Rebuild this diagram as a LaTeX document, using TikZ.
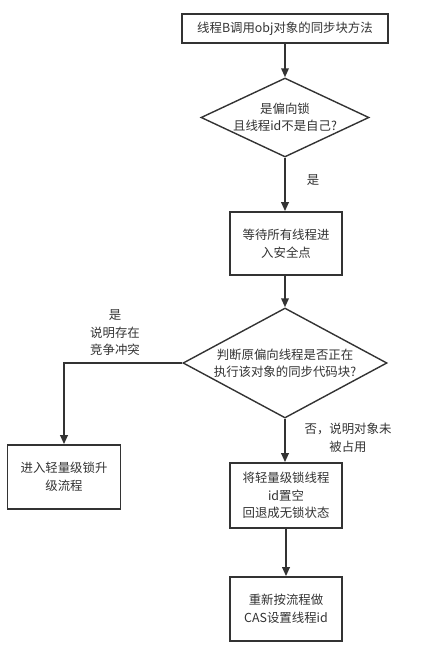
\documentclass[tikz,border=0pt]{standalone}
\usepackage{fontspec}
\setmainfont{Noto Sans CJK SC}
\usetikzlibrary{shapes.geometric,arrows.meta}
\definecolor{ln}{HTML}{333333}
\definecolor{tx}{HTML}{333333}
\tikzset{
  x=1pt,y=1pt,
  every node/.style={font=\fontsize{12.4}{17.5}\selectfont,text=tx,align=center},
  boxn/.style={draw=ln,line width=1.7pt,fill=white,inner sep=0pt},
  diam/.style={diamond,draw=ln,line width=1.4pt,fill=white,inner sep=0pt},
  conn/.style={draw=ln,line width=1.9pt,-{Triangle[length=9pt,width=7.5pt]}},
  lbl/.style={inner sep=0pt}
}
\begin{document}
\begin{tikzpicture}
\useasboundingbox (0,0) rectangle (424,-650);
\node[boxn,minimum width=206pt,minimum height=29pt] (b1) at (285,-28.5) {线程B调用obj对象的同步块方法};
\node[diam,minimum width=168pt,minimum height=79pt] (d1) at (285,-117.5) {};
\node[lbl] (d1t) at (285,-117.5) {是偏向锁\\且线程id不是自己?};
\node[boxn,minimum width=112pt,minimum height=63pt] (b2) at (286,-243.5) {等待所有线程进\\入安全点};
\node[diam,minimum width=204pt,minimum height=110pt] (d2) at (285,-363) {};
\node[lbl] (d2t) at (285,-363.5) {判断原偏向线程是否正在\\执行该对象的同步代码块?};
\node[boxn,minimum width=113pt,minimum height=64pt] (b3) at (64,-477) {进入轻量级锁升\\级流程};
\node[boxn,minimum width=112pt,minimum height=65pt] (b4) at (286,-495.5) {将轻量级锁线程\\id置空\\回退成无锁状态};
\node[boxn,minimum width=112pt,minimum height=64pt] (b5) at (286,-609) {重新按流程做\\CAS设置线程id};
\node[lbl] (l1) at (313,-180) {是};
\node[lbl] (l2) at (115,-333) {是\\说明存在\\竞争冲突};
\node[lbl] (l3) at (348,-438) {否，说明对象未\\被占用};
\draw[conn] (b1.south) -- (d1.north);
\draw[conn] (d1.south) -- (d1.south |- b2.north);
\draw[conn] (b2.south) -- (b2.south -| d2.north) -- (d2.north);
\draw[conn] (d2.west) -| (b3.north);
\draw[conn] (d2.south) -- (d2.south |- b4.north);
\draw[conn] (b4.south) -- (b5.north);
\end{tikzpicture}
\end{document}
